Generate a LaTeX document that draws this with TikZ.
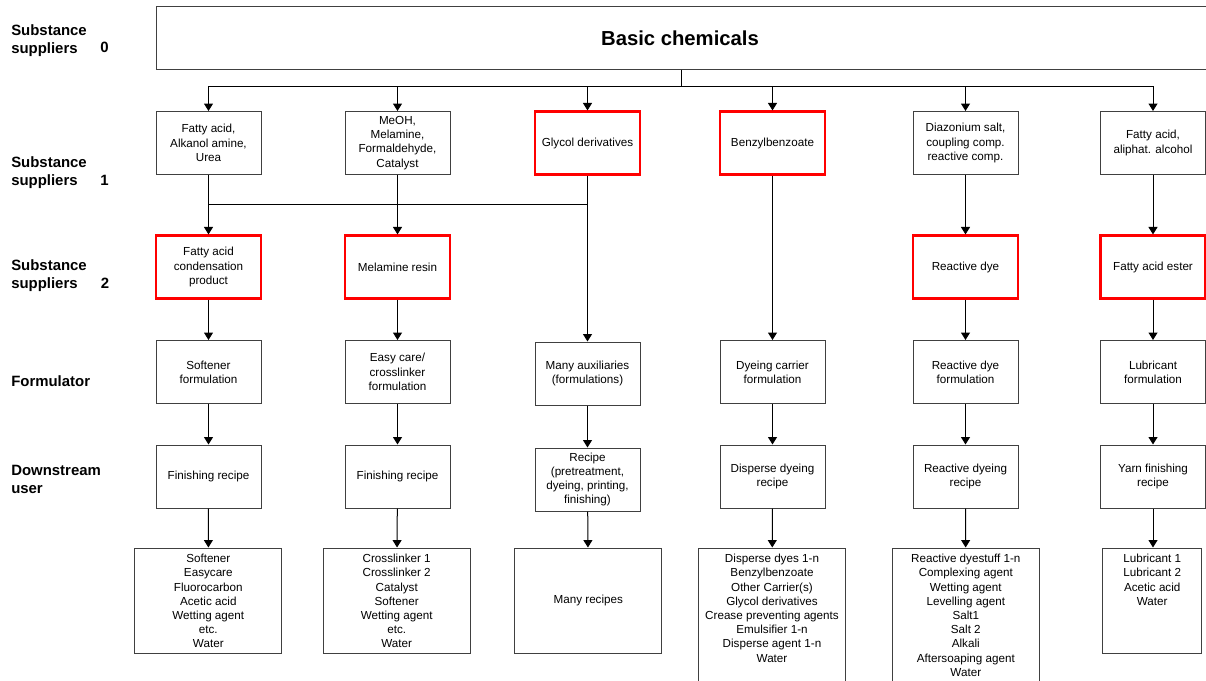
\documentclass[tikz,border=0pt]{standalone}
\usepackage{fontspec}
\setmainfont{Liberation Sans}
\usetikzlibrary{arrows.meta}
\begin{document}
\begin{tikzpicture}[x=0.75pt,y=-0.75pt,
  box/.style={draw=black!75, line width=0.75pt, minimum width=105*0.75pt,
    minimum height=63*0.75pt, inner sep=1pt, align=center,
    font=\fontsize{8.75pt}{10.65pt}\selectfont},
  keybox/.style={box, draw=red, line width=1.6pt},
  listbox/.style={draw=black!75, line width=0.75pt, inner sep=0pt},
  listtext/.style={anchor=north, align=center, inner sep=0pt,
    font=\fontsize{8.75pt}{10.65pt}\selectfont},
  flow/.style={draw=black, line width=0.75pt, -{Triangle[width=6.75pt,length=5.6pt]}},
  link/.style={draw=black, line width=0.75pt},
  level/.style={font=\fontsize{11.2pt}{13.5pt}\selectfont\bfseries, align=left,
    anchor=west, inner sep=0pt},
  levelno/.style={font=\fontsize{11.2pt}{13.5pt}\selectfont\bfseries, inner sep=0pt},
]
\useasboundingbox (0,0) rectangle (1206,681);
\clip (0,0) rectangle (1206,681);

% supply-chain levels
\node[level] (lv0) at (11,40.5) {Substance\\suppliers};
\node[levelno] (lv0n) at (104.5,47.5) {0};
\node[level] (lv1) at (11,173) {Substance\\suppliers};
\node[levelno] (lv1n) at (104.5,180.5) {1};
\node[level] (lv2) at (11,276) {Substance\\suppliers};
\node[levelno] (lv2n) at (105,283.5) {2};
\node[level] (lv3) at (11,381.5) {Formulator};
\node[level] (lv4) at (11,479) {Downstream\\user};

% level 0
\node[draw=black!75, line width=0.75pt, minimum width=1064*0.75pt,
  minimum height=62.6*0.75pt, inner sep=0pt] (basic) at (688,38) {};
\node[font=\fontsize{15.2pt}{18pt}\selectfont\bfseries, inner sep=0pt]
  (basictitle) at (680,38) {Basic chemicals};

% level 1
\node[box] (fa) at (208.5,143) {Fatty acid,\\Alkanol amine,\\Urea};
\node[box] (meoh) at (397.5,143) {MeOH,\\Melamine,\\Formaldehyde,\\Catalyst};
\node[keybox] (glycol) at (587.5,143) {Glycol derivatives};
\node[keybox] (benzyl) at (772.5,143) {Benzylbenzoate};
\node[box] (diazo) at (965.5,143) {Diazonium salt,\\coupling comp.\\reactive comp.};
\node[box] (faal) at (1153,143) {Fatty acid,\\aliphat. alcohol};

% level 2
\node[keybox] (facond) at (208.5,267) {Fatty acid\\condensation\\product};
\node[keybox] (melres) at (397.5,267) {Melamine resin};
\node[keybox] (reacdye) at (965.5,267) {Reactive dye};
\node[keybox] (faester) at (1153,267) {Fatty acid ester};

% formulators
\node[box] (softform) at (208.5,372) {Softener\\formulation};
\node[box] (easyform) at (397.5,372) {Easy care/\\crosslinker\\formulation};
\node[box] (manyaux) at (587.5,373.5) {Many auxiliaries\\(formulations)};
\node[box] (carrierform) at (772.5,372) {Dyeing carrier\\formulation};
\node[box] (reacform) at (965.5,372) {Reactive dye\\formulation};
\node[box] (lubform) at (1153,372) {Lubricant\\formulation};

% downstream users
\node[box] (finrecA) at (208.5,476.5) {Finishing recipe};
\node[box] (finrecB) at (397.5,476.5) {Finishing recipe};
\node[box] (recipe) at (587.5,479.5) {Recipe\\(pretreatment,\\dyeing, printing,\\finishing)};
\node[box] (disprecipe) at (772.5,476.5) {Disperse dyeing\\recipe};
\node[box] (reacrecipe) at (965.5,476.5) {Reactive dyeing\\recipe};
\node[box] (yarnrecipe) at (1153,476.5) {Yarn finishing\\recipe};

% recipe contents
\node[listbox, minimum width=146.7*0.75pt, minimum height=105*0.75pt] (softlist) at (208.3,600.5) {};
\node[listtext] (softlisttext) at (208.3,554) {Softener\\Easycare\\Fluorocarbon\\Acetic acid\\Wetting agent\\etc.\\Water};
\node[listbox, minimum width=146.7*0.75pt, minimum height=105*0.75pt] (crosslist) at (396.7,600.5) {};
\node[listtext] (crosslisttext) at (396.7,554) {Crosslinker 1\\Crosslinker 2\\Catalyst\\Softener\\Wetting agent\\etc.\\Water};
\node[listbox, minimum width=146.7*0.75pt, minimum height=105*0.75pt,
  font=\fontsize{8.75pt}{10.65pt}\selectfont] (manyrecipes) at (588.3,600.5) {Many recipes};
\node[listbox, minimum width=147.4*0.75pt, minimum height=150*0.75pt] (displist) at (772,623) {};
\node[listtext] (displisttext) at (772,554) {Disperse dyes 1-n\\Benzylbenzoate\\Other Carrier(s)\\Glycol derivatives\\Crease preventing agents\\Emulsifier 1-n\\Disperse agent 1-n\\Water};
\node[listbox, minimum width=147*0.75pt, minimum height=150*0.75pt] (reaclist) at (965.8,623) {};
\node[listtext] (reaclisttext) at (965.8,554) {Reactive dyestuff 1-n\\Complexing agent\\Wetting agent\\Levelling agent\\Salt1\\Salt 2\\Alkali\\Aftersoaping agent\\Water};
\node[listbox, minimum width=99*0.75pt, minimum height=105*0.75pt] (lublist) at (1152.2,600.5) {};
\node[listtext] (lublisttext) at (1152.2,554) {Lubricant 1\\Lubricant 2\\Acetic acid\\Water};

% distribution of basic chemicals
\coordinate (bus) at (681,87);
\draw[link] (bus |- basic.south) -- (bus);
\foreach \t in {fa,meoh,glycol,benzyl,diazo,faal}
  \draw[flow] (bus) -| (\t.north);

% level 1 to level 2 and formulators
\coordinate (gj) at (587.5,204);
\draw[flow] (fa) -- (facond);
\draw[flow] (meoh) -- (melres);
\draw[flow] (glycol) -- (manyaux);
\draw[link] (gj) -- (gj -| facond.north);
\draw[flow] (benzyl) -- (carrierform);
\draw[flow] (diazo) -- (reacdye);
\draw[flow] (faal) -- (faester);

\draw[flow] (facond) -- (softform);
\draw[flow] (melres) -- (easyform);
\draw[flow] (reacdye) -- (reacform);
\draw[flow] (faester) -- (lubform);

% formulators to recipes
\draw[flow] (softform) -- (finrecA);
\draw[flow] (easyform) -- (finrecB);
\draw[flow] (manyaux) -- (recipe);
\draw[flow] (carrierform) -- (disprecipe);
\draw[flow] (reacform) -- (reacrecipe);
\draw[flow] (lubform) -- (yarnrecipe);

% recipes to contents
\draw[flow] (finrecA) -- (softlist);
\draw[flow] (finrecB) -- (crosslist);
\draw[flow] (recipe) -- (manyrecipes);
\draw[flow] (disprecipe) -- (displist);
\draw[flow] (reacrecipe) -- (reaclist);
\draw[flow] (yarnrecipe.south) -- (lublist.north -| yarnrecipe.south);
\end{tikzpicture}
\end{document}
